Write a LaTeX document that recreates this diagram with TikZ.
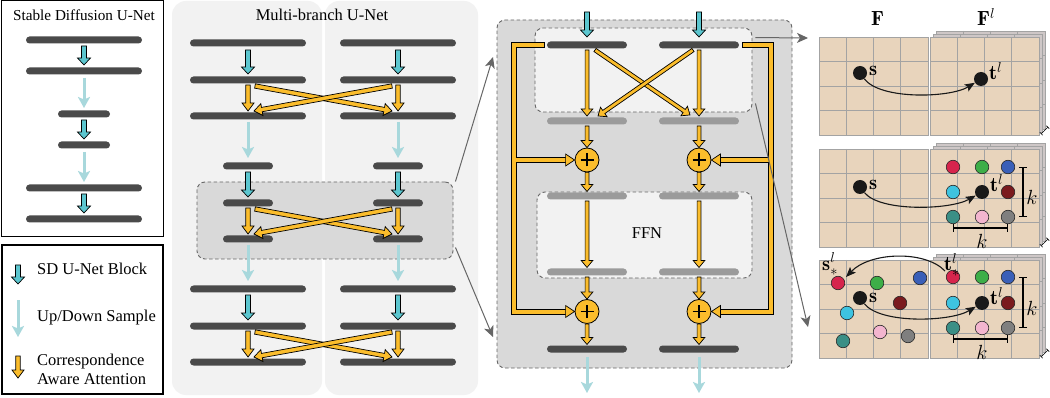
\RequirePackage{fix-cm}
\documentclass[tikz,border=0pt]{standalone}
\usepackage{fontspec}
\newfontfamily\timesf{Liberation Serif}
\usetikzlibrary{arrows.meta,calc}
\definecolor{dbar}{HTML}{4A4A4A}
\definecolor{gbar}{HTML}{9B9B9B}
\definecolor{cyanb}{HTML}{5CC6CF}
\definecolor{lightc}{HTML}{A8D8DC}
\definecolor{orng}{HTML}{FBBD2C}
\definecolor{panel}{HTML}{F2F2F2}
\definecolor{dbox}{HTML}{D9D9D9}
\definecolor{tanc}{HTML}{E8D4BC}
\definecolor{gridc}{HTML}{A3A3A3}
\definecolor{layerc}{HTML}{CEC7C7}
\definecolor{conn}{HTML}{666666}
\definecolor{dcrim}{HTML}{D6254D}
\definecolor{dgrn}{HTML}{3DAE48}
\definecolor{dblu}{HTML}{3A5FB8}
\definecolor{dcyn}{HTML}{3EC3E0}
\definecolor{dred}{HTML}{7A1A1E}
\definecolor{dteal}{HTML}{3A8F86}
\definecolor{dpink}{HTML}{F3B5CF}
\definecolor{dgry}{HTML}{7F7F7F}
\tikzset{
  dbarst/.style={fill=dbar, draw=none, rounded corners=3.5pt, minimum height=7pt, inner sep=0pt},
  gbarst/.style={fill=gbar, draw=none, rounded corners=3.5pt, minimum height=7pt, inner sep=0pt},
  lightarr/.style={draw=lightc, line width=3pt, -{Stealth[length=11pt,width=12pt,inset=2.5pt]}},
  cyanst/.style={fill=cyanb, draw=black, line width=0.7pt, line join=miter},
  orst/.style={fill=orng, draw=black, line width=0.7pt, line join=miter},
  dashbox/.style={draw=black!60, dash pattern=on 3.5pt off 2.5pt, rounded corners=8pt, line width=0.9pt, inner sep=0pt},
  panelst/.style={fill=panel, draw=none, rounded corners=14pt, inner sep=0pt},
  plusc/.style={circle, fill=orng, draw=black, line width=0.8pt, minimum size=24pt, inner sep=0pt,
    path picture={\draw[black, line width=1.3pt]
      ([xshift=-6.5pt]path picture bounding box.center) -- ([xshift=6.5pt]path picture bounding box.center)
      ([yshift=-6.5pt]path picture bounding box.center) -- ([yshift=6.5pt]path picture bounding box.center);}},
  connst/.style={draw=conn, line width=1pt, -{Stealth[length=11pt,width=10pt,inset=3pt]}},
  cdot/.style={circle, inner sep=0pt, minimum size=13.5pt, draw=black!85, line width=0.6pt},
  bdot/.style={circle, inner sep=0pt, minimum size=14pt, fill=black!90},
  curvarr/.style={draw=black!90, line width=1.1pt, -{Stealth[length=10pt,width=8pt,inset=2pt]}},
  mlab/.style={inner sep=0pt, font=\rmfamily\fontsize{20.5}{24}\selectfont},
  kbar/.style={line width=1.3pt, {Bar[width=8pt]}-{Bar[width=8pt]}},
  tickst/.style={line width=0.6pt, {Bar[width=4pt]}-{Bar[width=4pt]}}
}
\newcommand\blkarrow[6]{%
  \draw[#1] let \p1=(#2), \p2=(#3), \n1={atan2(\y2-\y1,\x2-\x1)}, \n2={veclen(\x2-\x1,\y2-\y1)} in
  [shift={(\p1)}, rotate=\n1] (0pt,-#4) -- ({\n2-#6},-#4) -- ({\n2-#6},-#5) -- (\n2,0pt)
  -- ({\n2-#6},#5) -- ({\n2-#6},#4) -- (0pt,#4) -- cycle;}
\newcommand\cyarrow[2]{\blkarrow{cyanst}{#1}{#2}{2.5pt}{6.5pt}{7pt}}
\newcommand\orarrow[2]{\blkarrow{orst}{#1}{#2}{2.2pt}{6pt}{8pt}}
\newcommand\orarrowm[2]{\blkarrow{orst}{#1}{#2}{1.9pt}{5.8pt}{7pt}}
\newcommand\featgrid[3]{%
  \fill[#3] (#1,#2) rectangle ++(109,98);
  \foreach \i in {1,2,3} {%
    \draw[gridc, line width=0.7pt] ({#1+\i*27.25},#2) -- ++(0,98);
    \draw[gridc, line width=0.7pt] (#1,{#2+\i*24.5}) -- ++(109,0);}
  \draw[gridc, line width=0.8pt] (#1,#2) rectangle ++(109,98);}
\begin{document}
\begin{tikzpicture}[x=1pt,y=-1pt, font=\timesf\fontsize{16.5}{19}\selectfont]
\useasboundingbox (0,0) rectangle (1050,398);
\fill[white] (0,0) rectangle (1050,398);

% ---------------- Stable Diffusion U-Net ----------------
\node[draw=black, line width=1pt, minimum width=162pt, minimum height=236pt, inner sep=0pt] (SDbox) at (82,119) {};
\node[font=\timesf\fontsize{15.2}{18}\selectfont, inner sep=0pt] (SDtitle) at (84,15) {Stable Diffusion U-Net};
\node[dbarst, minimum width=116pt] (S1) at (84,40) {};
\node[dbarst, minimum width=116pt] (S2) at (84,71) {};
\node[dbarst, minimum width=52pt] (S3) at (84,114) {};
\node[dbarst, minimum width=52pt] (S4) at (84,145) {};
\node[dbarst, minimum width=116pt] (S5) at (84,188) {};
\node[dbarst, minimum width=116pt] (S6) at (84,219) {};
\cyarrow{$(S1)+(0,6)$}{$(S2)+(0,-6)$}
\draw[lightarr] ($(S2)+(0,7)$) -- ($(S3)+(0,-6)$);
\cyarrow{$(S3)+(0,6)$}{$(S4)+(0,-6)$}
\draw[lightarr] ($(S4)+(0,7)$) -- ($(S5)+(0,-6)$);
\cyarrow{$(S5)+(0,6)$}{$(S6)+(0,-6)$}

% ---------------- Legend ----------------
\node[draw=black, line width=1.8pt, minimum width=161pt, minimum height=149pt, inner sep=0pt] (LG) at (82.5,319.5) {};
\coordinate (lg1a) at (18,265); \coordinate (lg1b) at (18,284);
\coordinate (lg2a) at (18,300); \coordinate (lg2b) at (18,337);
\coordinate (lg3a) at (18,356); \coordinate (lg3b) at (18,378);
\cyarrow{lg1a}{lg1b}
\draw[lightarr] (lg2a) -- (lg2b);
\orarrow{lg3a}{lg3b}
\node[anchor=west, inner sep=0pt] (lgt1) at (37,269) {SD U-Net Block};
\node[anchor=west, inner sep=0pt] (lgt2) at (37,318) {Up/Down Sample};
\node[anchor=west, inner sep=0pt, align=left] (lgt3) at (37,369) {Correspondence\\Aware Attention};

% ---------------- Multi-branch U-Net ----------------
\node[panelst, minimum width=150pt, minimum height=394pt] (LP) at (247,198) {};
\node[panelst, minimum width=153pt, minimum height=394pt] (RP) at (401.5,198) {};
\node[inner sep=0pt] (MBtitle) at (322,15) {Multi-branch U-Net};
\node[dashbox, fill=dbox, minimum width=256pt, minimum height=77pt] (DB) at (325,220.5) {};
\foreach \side/\xx in {L/248,R/398} {
  \node[dbarst, minimum width=116pt] (\side1) at (\xx,43) {};
  \node[dbarst, minimum width=116pt] (\side2) at (\xx,80) {};
  \node[dbarst, minimum width=116pt] (\side3) at (\xx,116) {};
  \node[dbarst, minimum width=50pt] (\side4) at (\xx,166) {};
  \node[dbarst, minimum width=50pt] (\side5) at (\xx,203) {};
  \node[dbarst, minimum width=50pt] (\side6) at (\xx,239) {};
  \node[dbarst, minimum width=116pt] (\side7) at (\xx,289) {};
  \node[dbarst, minimum width=116pt] (\side8) at (\xx,326) {};
  \node[dbarst, minimum width=116pt] (\side9) at (\xx,362) {};
}
\foreach \side in {L,R} {
  \cyarrow{$(\side1)+(0,7)$}{$(\side2)+(0,-6)$}
  \draw[lightarr] ($(\side3)+(0,6)$) -- ($(\side4)+(0,-8)$);
  \cyarrow{$(\side4)+(0,6)$}{$(\side5)+(0,-6)$}
  \draw[lightarr] ($(\side6)+(0,6)$) -- ($(\side7)+(0,-8)$);
  \cyarrow{$(\side7)+(0,6)$}{$(\side8)+(0,-6)$}
}
\foreach \ua/\ub in {2/3,5/6,8/9} {
  \orarrow{$(L\ua)+(7,6)$}{$(R\ub)+(-6,-5)$}
  \orarrow{$(R\ua)+(-6,6)$}{$(L\ub)+(6,-5)$}
  \orarrow{$(L\ua)+(0,5)$}{$(L\ub)+(0,-5)$}
  \orarrow{$(R\ua)+(0,5)$}{$(R\ub)+(0,-5)$}
}

% ---------------- Detail panel ----------------
\node[dashbox, fill=dbox, minimum width=295pt, minimum height=348pt] (MP) at (644.5,194) {};
\node[dashbox, fill=panel, minimum width=217pt, minimum height=84pt] (TB) at (643.5,70) {};
\node[dashbox, fill=panel, minimum width=215pt, minimum height=86pt] (FB) at (644.5,235) {};
\node[inner sep=0pt] (FFN) at (647,233) {FFN};
\foreach \q/\xx in {1/587,2/699} {
  \node[dbarst, minimum width=80pt] (MT\q) at (\xx,45) {};
  \node[gbarst, minimum width=80pt] (MG\q) at (\xx,121) {};
  \node[gbarst, minimum width=80pt] (MF\q) at (\xx,196) {};
  \node[gbarst, minimum width=80pt] (MH\q) at (\xx,272) {};
  \node[dbarst, minimum width=80pt] (MB\q) at (\xx,349) {};
}
\node[plusc] (P1) at (587,160) {};
\node[plusc] (P2) at (699,160) {};
\node[plusc] (P3) at (587,311.5) {};
\node[plusc] (P4) at (699,311.5) {};
\foreach \q in {1,2} {
  \cyarrow{$(MT\q)+(0,-33)$}{$(MT\q)+(0,-8)$}
  \orarrowm{$(MT\q)+(0,5)$}{$(MG\q)+(0,-5)$}
  \orarrowm{$(MF\q)+(0,5)$}{$(MH\q)+(0,-4.5)$}
  \draw[lightarr] ($(MB\q)+(0,8)$) -- ($(MB\q)+(0,44)$);
}
\orarrowm{$(MT1)+(8,5)$}{$(MG2)+(-9,-6)$}
\orarrowm{$(MT2)+(-6,5)$}{$(MG1)+(11,-5)$}
\orarrowm{$(MG1)+(0,5)$}{P1.north}
\orarrowm{$(MG2)+(0,5)$}{P2.north}
\orarrowm{P1.south}{$(MF1)+(0,-4.5)$}
\orarrowm{P2.south}{$(MF2)+(0,-4.5)$}
\orarrowm{$(MH1)+(0,5)$}{P3.north}
\orarrowm{$(MH2)+(0,5)$}{P4.north}
\orarrowm{P3.south}{$(MB1)+(0,-4.5)$}
\orarrowm{P4.south}{$(MB2)+(0,-4.5)$}
% residual connections
\coordinate (RLs) at ($(MT1.west)+(-3,0)$);
\coordinate (RLt) at (514,45);
\coordinate (RRs) at ($(MT2.east)+(4,0)$);
\coordinate (RRt) at (771,45);
\draw[line width=6pt, black, line join=miter, shorten <=-0.8pt] (RLs) -- (RLt) -- (RLt |- P3) -- ($(P3.west)+(-8,0)$);
\draw[line width=6pt, black] (RLt |- P1) -- ($(P1.west)+(-8,0)$);
\draw[line width=6pt, black, line join=miter, shorten <=-0.8pt] (RRs) -- (RRt) -- (RRt |- P4) -- ($(P4.east)+(8,0)$);
\draw[line width=6pt, black] (RRt |- P2) -- ($(P2.east)+(8,0)$);
\draw[line width=4pt, orng, line join=miter] (RLs) -- (RLt) -- (RLt |- P3) -- ($(P3.west)+(-8,0)$);
\draw[line width=4pt, orng] (RLt |- P1) -- ($(P1.west)+(-8,0)$);
\draw[line width=4pt, orng, line join=miter] (RRs) -- (RRt) -- (RRt |- P4) -- ($(P4.east)+(8,0)$);
\draw[line width=4pt, orng] (RRt |- P2) -- ($(P2.east)+(8,0)$);
\draw[orst] (P1.west) -- ++(-9,-6) -- ++(0,12) -- cycle;
\draw[orst] (P3.west) -- ++(-9,-6) -- ++(0,12) -- cycle;
\draw[orst] (P2.east) -- ++(9,-6) -- ++(0,12) -- cycle;
\draw[orst] (P4.east) -- ++(9,-6) -- ++(0,12) -- cycle;

% ---------------- connectors ----------------
\coordinate (g1s) at ($(DB.north east)+(2,0)$);
\coordinate (g1e) at (493,57);
\coordinate (g2s) at ($(DB.south east)+(2,-12)$);
\coordinate (g2e) at (493,337);
\coordinate (g3s) at ($(TB.north east)+(3,10)$);
\coordinate (g3e) at (808,38);
\coordinate (g4s) at ($(TB.south east)+(3,-9)$);
\coordinate (g4e) at (808,327);
\draw[connst] (g1s) -- (g1e);
\draw[connst] (g2s) -- (g2e);
\draw[connst] (g3s) -- (g3e);
\draw[connst] (g4s) -- (g4e);

% ---------------- feature grids ----------------
\foreach \yy in {37,149,260} {
  \featgrid{819}{\yy}{tanc}
  \featgrid{936}{\yy-6}{layerc}
  \featgrid{933}{\yy-3}{layerc}
  \featgrid{930}{\yy}{tanc}
  \draw[tickst] (1041,\yy+97) -- (1048,\yy+90);
}
\node[mlab, anchor=base west] (Flab) at (871,26) {$\mathbf{F}$};
\node[mlab, anchor=base west] (Fllab) at (977,26) {$\mathbf{F}^l$};

% row 1
\node[bdot] (s1) at (860,73) {};
\node[bdot] (t1) at (981,79) {};
\node[mlab, anchor=base west] (s1l) at (869,76) {$\mathbf{s}$};
\node[mlab, anchor=base west] (t1l) at (989,80) {$\mathbf{t}^l$};
\draw[curvarr] (s1) .. controls (880,100) and (950,98) .. (t1);

% row 2
\node[bdot] (s2) at (860,187) {};
\node[bdot] (t2) at (982,192) {};
\node[cdot, fill=dcrim] (q2a) at (953,167) {};
\node[cdot, fill=dgrn] (q2b) at (982,167) {};
\node[cdot, fill=dblu] (q2c) at (1008,167) {};
\node[cdot, fill=dcyn] (q2d) at (953,192) {};
\node[cdot, fill=dred] (q2f) at (1008,192) {};
\node[cdot, fill=dteal] (q2g) at (953,217) {};
\node[cdot, fill=dpink] (q2h) at (982,217) {};
\node[cdot, fill=dgry] (q2i) at (1008,217) {};
\node[mlab, anchor=base west] (s2l) at (869,190) {$\mathbf{s}$};
\node[mlab, anchor=base west] (t2l) at (990,192) {$\mathbf{t}^l$};
\draw[curvarr] (s2) .. controls (880,212) and (950,210) .. (t2);
\coordinate (k2a) at (1023,167); \coordinate (k2b) at (1023,217);
\coordinate (k2c) at (953,228); \coordinate (k2d) at (1008,228);
\draw[kbar] (k2a) -- (k2b);
\draw[kbar] (k2c) -- (k2d);
\node[mlab] (k2v) at (1032,197) {$k$};
\node[mlab] (k2h) at (982,241) {$k$};

% row 3
\node[bdot] (s3) at (860,298) {};
\node[bdot] (t3) at (982,303) {};
\node[cdot, fill=dcrim] (r3a) at (953,277) {};
\node[cdot, fill=dgrn] (r3b) at (982,277) {};
\node[cdot, fill=dblu] (r3c) at (1008,277) {};
\node[cdot, fill=dcyn] (r3d) at (953,303) {};
\node[cdot, fill=dred] (r3f) at (1008,303) {};
\node[cdot, fill=dteal] (r3g) at (953,328) {};
\node[cdot, fill=dpink] (r3h) at (982,328) {};
\node[cdot, fill=dgry] (r3i) at (1008,328) {};
\node[cdot, fill=dcrim] (l3a) at (838,283) {};
\node[cdot, fill=dgrn] (l3b) at (877,283) {};
\node[cdot, fill=dblu] (l3c) at (920,278) {};
\node[cdot, fill=dred] (l3f) at (900,303) {};
\node[cdot, fill=dcyn] (l3d) at (847,313) {};
\node[cdot, fill=dpink] (l3h) at (880,332) {};
\node[cdot, fill=dgry] (l3i) at (908,336) {};
\node[cdot, fill=dteal] (l3g) at (843,341) {};
\node[mlab, anchor=base west] (s3l) at (869,302) {$\mathbf{s}$};
\node[mlab, anchor=base west] (t3l) at (990,305) {$\mathbf{t}^l$};
\node[mlab, anchor=base west] (s3s) at (822,270) {$\mathbf{s}^l_*$};
\node[mlab, anchor=base west] (t3s) at (944,271) {$\mathbf{t}^l_*$};
\draw[curvarr] (s3) .. controls (880,324) and (950,322) .. (t3);
\draw[curvarr] ($(r3a)+(-8,-6)$) .. controls (925,250) and (870,252) .. ($(l3a)+(8,-6)$);
\coordinate (k3a) at (1023,277); \coordinate (k3b) at (1023,328);
\coordinate (k3c) at (953,339); \coordinate (k3d) at (1008,339);
\draw[kbar] (k3a) -- (k3b);
\draw[kbar] (k3c) -- (k3d);
\node[mlab] (k3v) at (1032,308) {$k$};
\node[mlab] (k3h) at (982,352) {$k$};
\end{tikzpicture}
\end{document}
